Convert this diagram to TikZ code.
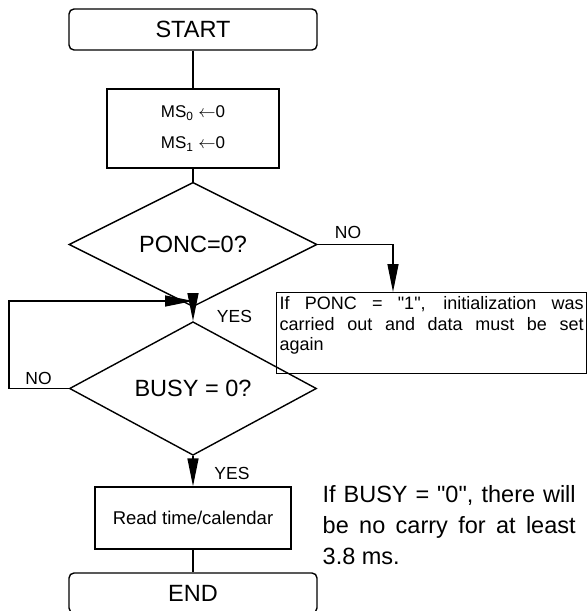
\documentclass[tikz,border=0pt]{standalone}
\usepackage{fontspec}
\setmainfont{Liberation Sans}[Ligatures=TeXOff]
\usetikzlibrary{shapes.geometric,arrows.meta}

\begin{document}
\begin{tikzpicture}[x=1pt,y=-1pt,line width=1.4pt,
        flow/.style={-{Triangle[length=28pt,width=11pt]}},
        lbl/.style={font=\fontsize{17.5}{20}\selectfont,inner sep=0pt}]
            \useasboundingbox (0,0) rectangle (587,611);
            \begin{scope}[every node/.style={draw,inner sep=0pt}]
                \node[rounded corners=5pt,minimum width=248pt,minimum height=41pt,font=\fontsize{23.5}{28}\selectfont] (start) at (193,29.5) {START};
                \node[minimum width=172pt,minimum height=79pt,align=center,font=\fontsize{17}{31}\selectfont] (init) at (193,128.5) {MS\textsubscript{0} $\leftarrow$0\\MS\textsubscript{1} $\leftarrow$0};
                \node[diamond,minimum width=248pt,minimum height=91pt,font=\fontsize{23.5}{28}\selectfont] (ponc) at (193,244.5) {PONC=0?};
                \node[diamond,minimum width=247pt,minimum height=91pt,font=\fontsize{23.5}{28}\selectfont] (busy) at (193,388.5) {BUSY = 0?};
                \node[minimum width=196pt,minimum height=62pt,font=\fontsize{18.5}{22}\selectfont] (read) at (193,518) {Read time/calendar};
                \node[rounded corners=5pt,minimum width=248pt,minimum height=40pt,font=\fontsize{23.5}{28}\selectfont] (end) at (193,593) {END};
                \node[anchor=north west,text width=304pt,align=justify,inner xsep=3pt,font=\fontsize{18}{20.5}\selectfont] (ponctext) at (276,292) {\sloppy\rule{0pt}{17pt}If PONC = "1", initialization was\linebreak carried out and data must be set\linebreak again\rule[-23pt]{0pt}{23pt}};
            \end{scope}

            \node[anchor=north west,text width=253pt,align=justify,inner sep=0pt,font=\fontsize{23.5}{31}\selectfont] (busytext) at (322,485) {\sloppy\rule{0pt}{17pt}If BUSY = "0", there will\linebreak be no carry for at least\linebreak 3.8 ms.};

            \coordinate (nocorner) at (393,244.5);
            \coordinate (join) at (193,301);
            \coordinate (loopleft) at (9,388.5);

            \draw (start) -- (init);
            \draw (init) -- (ponc);
            \draw[flow] (ponc.east) -- (nocorner) -- (nocorner |- ponctext.north);
            \draw[flow] (ponc.south) -- (busy.north);
            \draw[flow] (busy.west) -- (loopleft) |- (join);
            \draw[flow] (busy.south) -- (read.north);
            \draw (read) -- (end);

            \node[lbl] (ponc-no) at (348,232) {NO};
            \node[lbl] (ponc-yes) at (234.5,316.5) {YES};
            \node[lbl] (busy-no) at (38.5,378) {NO};
            \node[lbl] (busy-yes) at (232,473) {YES};
            \end{tikzpicture}
\end{document}
